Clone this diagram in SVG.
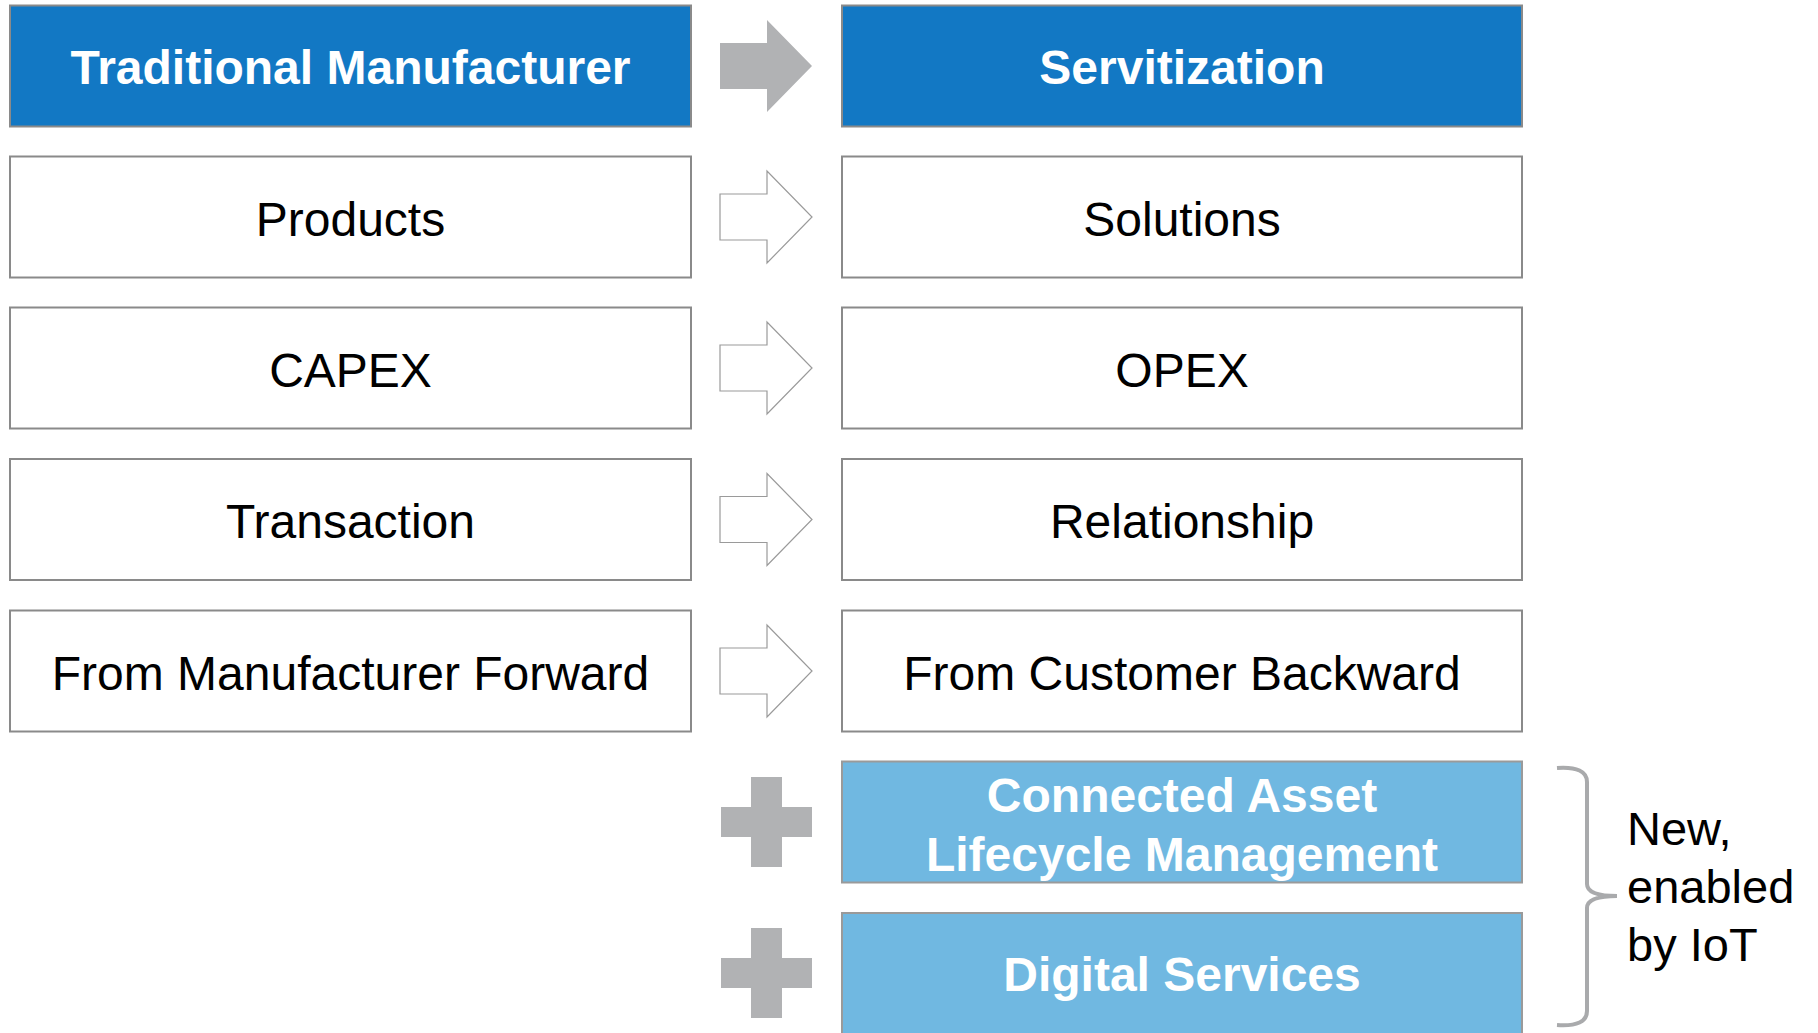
<svg xmlns="http://www.w3.org/2000/svg" xmlns:xlink="http://www.w3.org/1999/xlink" width="1818" height="1033" viewBox="0 0 1818 1033">
<style>
.box{fill:#fff;stroke:#8a8a8a;stroke-width:2}
.hdr{fill:#1278C4;stroke:#8a8a8a;stroke-width:2}
.new{fill:#70B8E1;stroke:#9a9a9a;stroke-width:2}
.t{font-family:"Liberation Sans",Arial,sans-serif;font-size:48px;text-anchor:middle;fill:#000}
.tb{font-family:"Liberation Sans",Arial,sans-serif;font-size:48px;font-weight:bold;text-anchor:middle;fill:#fff}
.side{font-family:"Liberation Sans",Arial,sans-serif;font-size:47px;fill:#000}
.oarrow{fill:#fff;stroke:#9a9a9a;stroke-width:1.2}
.farrow{fill:#B1B2B4}
.cross{fill:#B1B2B4}
.brace{fill:none;stroke:#A9AAAC;stroke-width:4}
</style>
<defs>
<path id="arr" d="M720,-23 H767 V-46 L812,0 L767,46 V23 H720 Z"/>
<path id="crs" d="M751,-45 H782 V-15 H812 V15 H782 V45 H751 V15 H721 V-15 H751 Z"/>
</defs>
<g id="n-traditional"><rect class="hdr" x="10" y="5.5" width="681" height="121"/><text class="tb" x="350.5" y="84">Traditional Manufacturer</text></g>
<g id="n-servitization"><rect class="hdr" x="842" y="5.5" width="680" height="121"/><text class="tb" x="1182" y="84">Servitization</text></g>
<g id="n-products"><rect class="box" x="10" y="156.5" width="681" height="121"/><text class="t" x="350.5" y="236">Products</text></g>
<g id="n-solutions"><rect class="box" x="842" y="156.5" width="680" height="121"/><text class="t" x="1182" y="236">Solutions</text></g>
<g id="n-capex"><rect class="box" x="10" y="307.5" width="681" height="121"/><text class="t" x="350.5" y="387">CAPEX</text></g>
<g id="n-opex"><rect class="box" x="842" y="307.5" width="680" height="121"/><text class="t" x="1182" y="387">OPEX</text></g>
<g id="n-transaction"><rect class="box" x="10" y="459" width="681" height="121"/><text class="t" x="350.5" y="538">Transaction</text></g>
<g id="n-relationship"><rect class="box" x="842" y="459" width="680" height="121"/><text class="t" x="1182" y="538">Relationship</text></g>
<g id="n-forward"><rect class="box" x="10" y="610.5" width="681" height="121"/><text class="t" x="350.5" y="690">From Manufacturer Forward</text></g>
<g id="n-backward"><rect class="box" x="842" y="610.5" width="680" height="121"/><text class="t" x="1182" y="690">From Customer Backward</text></g>
<g id="n-calm"><rect class="new" x="842" y="761.5" width="680" height="121"/><text class="tb" x="1182" y="812">Connected Asset</text><text class="tb" x="1182" y="871">Lifecycle Management</text></g>
<g id="n-digital"><rect class="new" x="842" y="913" width="680" height="125"/><text class="tb" x="1182" y="991">Digital Services</text></g>
<g id="connectors">
<use href="#arr" xlink:href="#arr" class="farrow" transform="translate(0,66)"/>
<use href="#arr" xlink:href="#arr" class="oarrow" transform="translate(0,217)"/>
<use href="#arr" xlink:href="#arr" class="oarrow" transform="translate(0,368)"/>
<use href="#arr" xlink:href="#arr" class="oarrow" transform="translate(0,519.5)"/>
<use href="#arr" xlink:href="#arr" class="oarrow" transform="translate(0,671)"/>
<use href="#crs" xlink:href="#crs" class="cross" transform="translate(0,822)"/>
<use href="#crs" xlink:href="#crs" class="cross" transform="translate(0,973)"/>
<path class="brace" d="M1557,768 Q1587,766 1587,782 V884 Q1587,896 1617,896 Q1587,896 1587,908 V1011 Q1587,1027 1557,1025"/>
</g>
<g id="n-note"><text class="side" x="1627" y="845">New,</text><text class="side" x="1627" y="903">enabled</text><text class="side" x="1627" y="961">by IoT</text></g>
</svg>
